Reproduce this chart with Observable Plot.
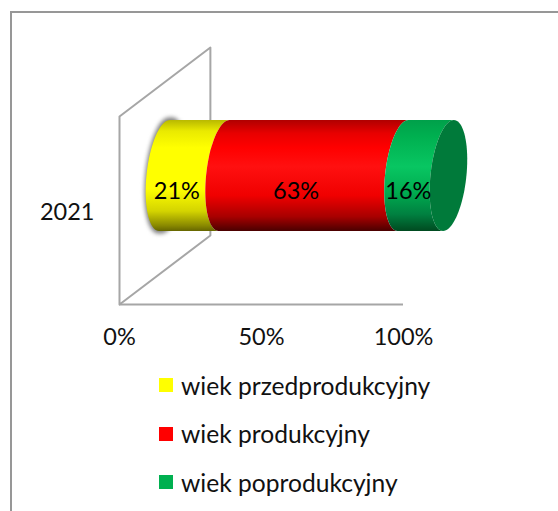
<!DOCTYPE html>
<html><head><meta charset="utf-8">
<script src="https://cdn.jsdelivr.net/npm/d3@7"></script>
<script src="https://cdn.jsdelivr.net/npm/@observablehq/plot@0.6"></script>
<style>
html,body{margin:0;padding:0;background:#fff;width:558px;height:511px;overflow:hidden}
#box{position:absolute;left:10px;top:11px;width:548px;height:500px;border-top:2px solid #979797;border-left:2px solid #979797;box-sizing:border-box}
#chart{position:absolute;left:0;top:0}
#legend{position:absolute;left:159px;top:361px;font:24.6px Lato,Carlito,sans-serif;color:#111}
.row{display:flex;align-items:center;height:48.5px;white-space:nowrap}
.sw{width:14px;height:14px;margin-right:8px;display:inline-block}
</style></head><body>
<div id="box"></div><div id="chart"></div><div id="legend"></div>
<script>
const categories = ["wiek przedprodukcyjny","wiek produkcyjny","wiek poprodukcyjny"];
const values = [21,63,16];
const year = "2021";
const tickValues = [0,50,100];
const legendColors = ["#ffff00","#ff0000","#00b050"];
const gradIds = ["gy","gr","gg"];

// 3D box and cylinder proportions (in scale units)
const depthX=32, depthY=0.367, midX=depthX/2, midY=depthY/2;
const halfH=0.295, rx=6.34, skew=1.9;
const cy=0.5+midY;
const ts=d3.range(-20,21).map(i=>i/20*Math.PI/2);
const leftEdge=(v,t)=>v+midX-rx*Math.cos(t)+skew*Math.sin(t);
const rightEdge=(v,t)=>v+midX+rx*Math.cos(t)+skew*Math.sin(t);
const yAt=(t,h=halfH)=>cy+h*Math.sin(t);
const cum=d3.cumsum(values);
const starts=[0,...cum.slice(0,-1)];
const band=(a,b,f=leftEdge,g=leftEdge,h=halfH)=>ts.map(t=>({y:yAt(t,h),x1:f(a,t),x2:g(b,t)}));

const wall=[[0,0],[0,1],[depthX,1+depthY],[depthX,depthY],[0,0]].map(([x,y])=>({x,y}));

const stops={
 gy:[[0,"#b9b900"],[.1,"#eaea00"],[.25,"#ffff00"],[.62,"#ffff00"],[.82,"#d4d400"],[.95,"#8a8a00"],[1,"#666600"]],
 gr:[[0,"#b00000"],[.12,"#e80000"],[.25,"#ff0000"],[.42,"#ff1010"],[.68,"#f00000"],[.87,"#a80000"],[1,"#4a0000"]],
 gg:[[0,"#00a04a"],[.15,"#00b050"],[.42,"#08c662"],[.65,"#00ac50"],[.85,"#008040"],[1,"#004a20"]]
};
const defs=()=>{
  const d=d3.create("svg:defs");
  for(const id of gradIds){
    const g=d.append("linearGradient").attr("id",id).attr("x1",0).attr("x2",0).attr("y1",0).attr("y2",1);
    for(const [o,c] of stops[id]) g.append("stop").attr("offset",o).attr("stop-color",c);
  }
  return d.node();
};

const labels=values.map((v,i)=>({x:starts[i]+v/2+9.7,y:0.6,t:v+"%"}));

const plot=Plot.plot({
  width:558,height:360,marginLeft:119,marginRight:155,marginTop:116,marginBottom:56,
  style:{fontFamily:"Lato,Carlito,sans-serif",fontSize:"23.5px",color:"#111",background:"transparent",overflow:"visible"},
  x:{domain:[0,100]},
  y:{domain:[0,1]},
  marks:[
    defs,
    Plot.line(wall,{x:"x",y:"y",stroke:"#a6a6a6",strokeWidth:2}),
    Plot.ruleY([0],{x1:0,x2:100,stroke:"#a6a6a6",strokeWidth:2}),
    Plot.areaX(band(-0.4,1,leftEdge,rightEdge,halfH*1.045),{y:"y",x1:"x1",x2:"x2",fill:"#7d7d7d",imageFilter:"blur(2px)",curve:"linear"}),
    ...values.map((v,i)=>Plot.areaX(band(starts[i],cum[i]),{y:"y",x1:"x1",x2:"x2",fill:`url(#${gradIds[i]})`,curve:"linear"})),
    Plot.areaX(band(100,100,leftEdge,rightEdge),{y:"y",x1:"x1",x2:"x2",fill:"#007a3a",curve:"linear"}),
    Plot.text(labels,{x:"x",y:"y",text:"t",fill:"#000",fontSize:23.5}),
    Plot.axisX({ticks:tickValues,tickFormat:d=>d+"%",tickSize:0,tickPadding:24,label:null,fontSize:23.5}),
    Plot.axisY({ticks:[0.5],tickFormat:()=>year,tickSize:0,tickPadding:25,dy:2,label:null,fontSize:23.5})
  ]
});
document.getElementById("chart").append(plot);
const lg=d3.select("#legend");
categories.forEach((c,i)=>{
  const r=lg.append("div").attr("class","row");
  r.append("span").attr("class","sw").style("background",legendColors[i]);
  r.append("span").text(c);
});
</script></body></html>
